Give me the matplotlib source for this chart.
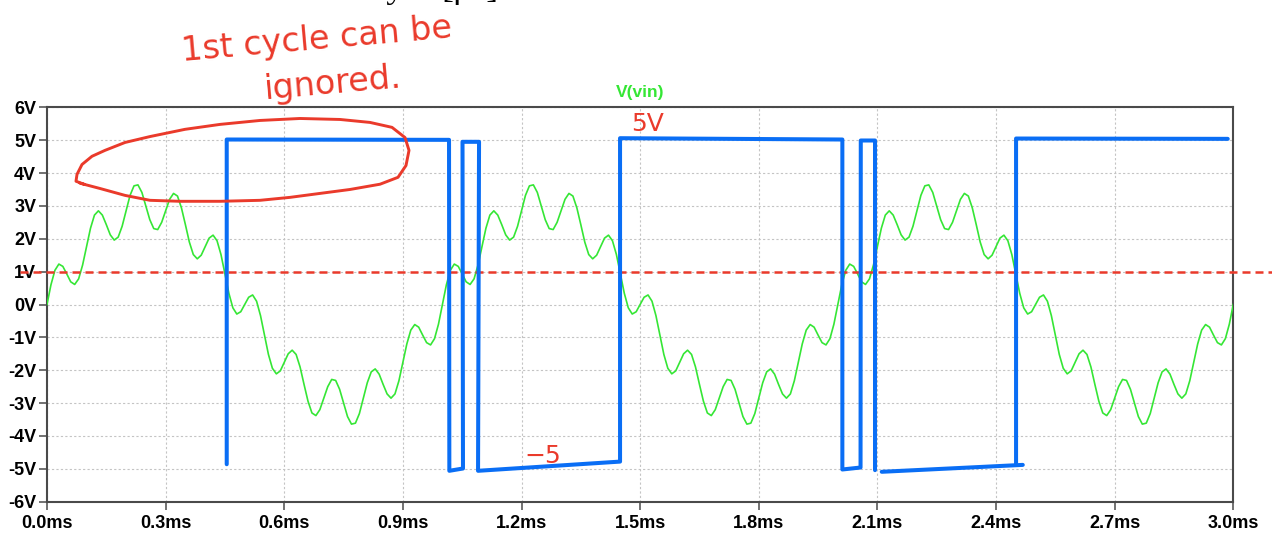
import numpy as np
import matplotlib.pyplot as plt


# ==========================================
# Trace data (time in ms, voltage in V)
# ==========================================

time_ms = np.linspace(0.0, 3.0, 301)

vin = np.array([
    0.00, 0.60, 1.04, 1.23, 1.16, 0.93, 0.69, 0.61, 0.78, 1.20,
    1.76, 2.32, 2.72, 2.85, 2.72, 2.43, 2.12, 1.96, 2.05, 2.38,
    2.85, 3.32, 3.61, 3.64, 3.41, 3.00, 2.58, 2.31, 2.28, 2.50,
    2.85, 3.20, 3.38, 3.30, 2.94, 2.43, 1.90, 1.52, 1.39, 1.50,
    1.76, 2.02, 2.11, 1.94, 1.52, 0.93, 0.34, -0.10, -0.29, -0.22,
    0.00, 0.22, 0.29, 0.10, -0.34, -0.93, -1.52, -1.94, -2.11, -2.02,
    -1.76, -1.50, -1.39, -1.52, -1.90, -2.43, -2.94, -3.30, -3.38, -3.20,
    -2.85, -2.50, -2.28, -2.31, -2.58, -3.00, -3.41, -3.64, -3.61, -3.32,
    -2.85, -2.38, -2.05, -1.96, -2.12, -2.43, -2.72, -2.85, -2.72, -2.32,
    -1.76, -1.20, -0.78, -0.61, -0.69, -0.93, -1.16, -1.23, -1.04, -0.60,
    0.00, 0.60, 1.04, 1.23, 1.16, 0.93, 0.69, 0.61, 0.78, 1.20,
    1.76, 2.32, 2.72, 2.85, 2.72, 2.43, 2.12, 1.96, 2.05, 2.38,
    2.85, 3.32, 3.61, 3.64, 3.41, 3.00, 2.58, 2.31, 2.28, 2.50,
    2.85, 3.20, 3.38, 3.30, 2.94, 2.43, 1.90, 1.52, 1.39, 1.50,
    1.76, 2.02, 2.11, 1.94, 1.52, 0.93, 0.34, -0.10, -0.29, -0.22,
    0.00, 0.22, 0.29, 0.10, -0.34, -0.93, -1.52, -1.94, -2.11, -2.02,
    -1.76, -1.50, -1.39, -1.52, -1.90, -2.43, -2.94, -3.30, -3.38, -3.20,
    -2.85, -2.50, -2.28, -2.31, -2.58, -3.00, -3.41, -3.64, -3.61, -3.32,
    -2.85, -2.38, -2.05, -1.96, -2.12, -2.43, -2.72, -2.85, -2.72, -2.32,
    -1.76, -1.20, -0.78, -0.61, -0.69, -0.93, -1.16, -1.23, -1.04, -0.60,
    0.00, 0.60, 1.04, 1.23, 1.16, 0.93, 0.69, 0.61, 0.78, 1.20,
    1.76, 2.32, 2.72, 2.85, 2.72, 2.43, 2.12, 1.96, 2.05, 2.38,
    2.85, 3.32, 3.61, 3.64, 3.41, 3.00, 2.58, 2.31, 2.28, 2.50,
    2.85, 3.20, 3.38, 3.30, 2.94, 2.43, 1.90, 1.52, 1.39, 1.50,
    1.76, 2.02, 2.11, 1.94, 1.52, 0.93, 0.34, -0.10, -0.29, -0.22,
    0.00, 0.22, 0.29, 0.10, -0.34, -0.93, -1.52, -1.94, -2.11, -2.02,
    -1.76, -1.50, -1.39, -1.52, -1.90, -2.43, -2.94, -3.30, -3.38, -3.20,
    -2.85, -2.50, -2.28, -2.31, -2.58, -3.00, -3.41, -3.64, -3.61, -3.32,
    -2.85, -2.38, -2.05, -1.96, -2.12, -2.43, -2.72, -2.85, -2.72, -2.32,
    -1.76, -1.20, -0.78, -0.61, -0.69, -0.93, -1.16, -1.23, -1.04, -0.60,
    0.00,
])

# hand-drawn comparator output (three strokes)
out1_t = [0.4545, 0.4545, 1.0167, 1.0175, 1.0520, 1.0508, 1.0926, 1.0901,
          1.4492, 1.4492, 2.0114, 2.0114, 2.0574, 2.0580, 2.0940, 2.0940]
out1_v = [-4.86, 5.02, 5.01, -5.06, -4.99, 4.95, 4.95, -5.06,
          -4.78, 5.06, 5.02, -5.02, -4.96, 4.99, 4.99, -5.04]

out2_t = [2.111, 2.4677]
out2_v = [-5.09, -4.88]

out3_t = [2.4507, 2.4507, 2.986]
out3_v = [-4.88, 5.05, 5.04]

# comparator threshold
threshold_v = 1.0
threshold_t = [-0.068, 3.098]

# loop drawn around the first cycle
loop_t = [0.0936, 0.0733, 0.0759, 0.0885, 0.1138, 0.1467, 0.1973, 0.2605,
          0.3490, 0.4375, 0.5387, 0.6399, 0.7410, 0.8169, 0.8725, 0.9054,
          0.9155, 0.9079, 0.8877, 0.8422, 0.7663, 0.6904, 0.6146, 0.5387,
          0.4375, 0.3364, 0.2605, 0.1973, 0.1340, 0.0835]
loop_v = [3.66, 3.75, 3.96, 4.26, 4.51, 4.69, 4.93, 5.11,
          5.33, 5.48, 5.60, 5.66, 5.63, 5.54, 5.39, 5.08,
          4.69, 4.23, 3.87, 3.66, 3.50, 3.38, 3.26, 3.17,
          3.14, 3.14, 3.17, 3.32, 3.53, 3.69]

x_ticks = [0.0, 0.3, 0.6, 0.9, 1.2, 1.5, 1.8, 2.1, 2.4, 2.7, 3.0]
x_labels = ["0.0ms", "0.3ms", "0.6ms", "0.9ms", "1.2ms", "1.5ms",
            "1.8ms", "2.1ms", "2.4ms", "2.7ms", "3.0ms"]
y_ticks = [6, 5, 4, 3, 2, 1, 0, -1, -2, -3, -4, -5, -6]
y_labels = ["6V", "5V", "4V", "3V", "2V", "1V", "0V",
            "-1V", "-2V", "-3V", "-4V", "-5V", "-6V"]


# ==========================================
# Colours
# ==========================================

GREEN = "#35e635"
BLUE = "#0a6ef5"
RED = "#ea3a2b"
FRAME = "#4a4a4a"
HAND_FONT = "DejaVu Sans"


# ==========================================
# Plot
# ==========================================

plt.rcParams["axes.unicode_minus"] = False

fig = plt.figure(figsize=(12.72, 5.36), dpi=100)
ax = fig.add_axes([0.03695, 0.0640, 0.9326, 0.7358])

ax.plot(time_ms, vin, color=GREEN, lw=1.2, zorder=3)

ax.plot(threshold_t, [threshold_v, threshold_v], color=RED, lw=1.8,
        linestyle=(0, (3.2, 2.0)), clip_on=False, zorder=4)

for t, v in [(out1_t, out1_v), (out2_t, out2_v), (out3_t, out3_v)]:
    ax.plot(t, v, color=BLUE, lw=2.9, solid_capstyle="round",
            solid_joinstyle="round", clip_on=False, zorder=5)

ax.plot(loop_t, loop_v, color=RED, lw=2.1, solid_capstyle="round",
        solid_joinstyle="round", clip_on=False, zorder=6)

ax.set_xlim(0, 3.0)
ax.set_ylim(-6, 6)
ax.set_xticks(x_ticks)
ax.set_xticklabels(x_labels)
ax.set_yticks(y_ticks)
ax.set_yticklabels(y_labels)

for lab in ax.get_xticklabels() + ax.get_yticklabels():
    lab.set_fontfamily("Liberation Sans")
    lab.set_fontweight("bold")
    lab.set_fontsize(13)

ax.tick_params(direction="out", length=5.8, width=1.1, color=FRAME, pad=2)
ax.tick_params(axis="x", pad=3.5)
ax.grid(True, color="#c4c4c4", lw=0.8, linestyle=(0, (2, 2)))
ax.set_axisbelow(True)

for side in ["left", "right", "top", "bottom"]:
    ax.spines[side].set_color(FRAME)
    ax.spines[side].set_linewidth(1.5)

# trace name
ax.text(0.5, 1.018, "V(vin)", transform=ax.transAxes, ha="center",
        va="bottom", color=GREEN, fontsize=12.5, fontweight="bold",
        fontfamily="Liberation Sans")

# handwritten notes
fig.text(0.1431, 0.8862, "1st cycle can be", color=RED, fontsize=24,
         family=HAND_FONT, rotation=5, rotation_mode="anchor",
         ha="left", va="baseline")
fig.text(0.2083, 0.8160, "ignored.", color=RED, fontsize=24,
         family=HAND_FONT, rotation=5, rotation_mode="anchor",
         ha="left", va="baseline")
ax.text(1.52, 5.48, "5V", color=RED, fontsize=18, family=HAND_FONT,
        ha="center", va="center", clip_on=False)
ax.text(1.254, -4.61, "\u22125", color=RED, fontsize=18, family=HAND_FONT,
        ha="center", va="center")

# title line running off the top edge
fig.text(0.319, 1.006, "Delay", fontsize=26, family="Liberation Serif",
         ha="right", va="baseline")
fig.text(0.3695, 1.006, "[\u03bcs]", fontsize=26, family="Liberation Serif",
         ha="center", va="baseline")

fig.savefig("out.png", dpi=100)
